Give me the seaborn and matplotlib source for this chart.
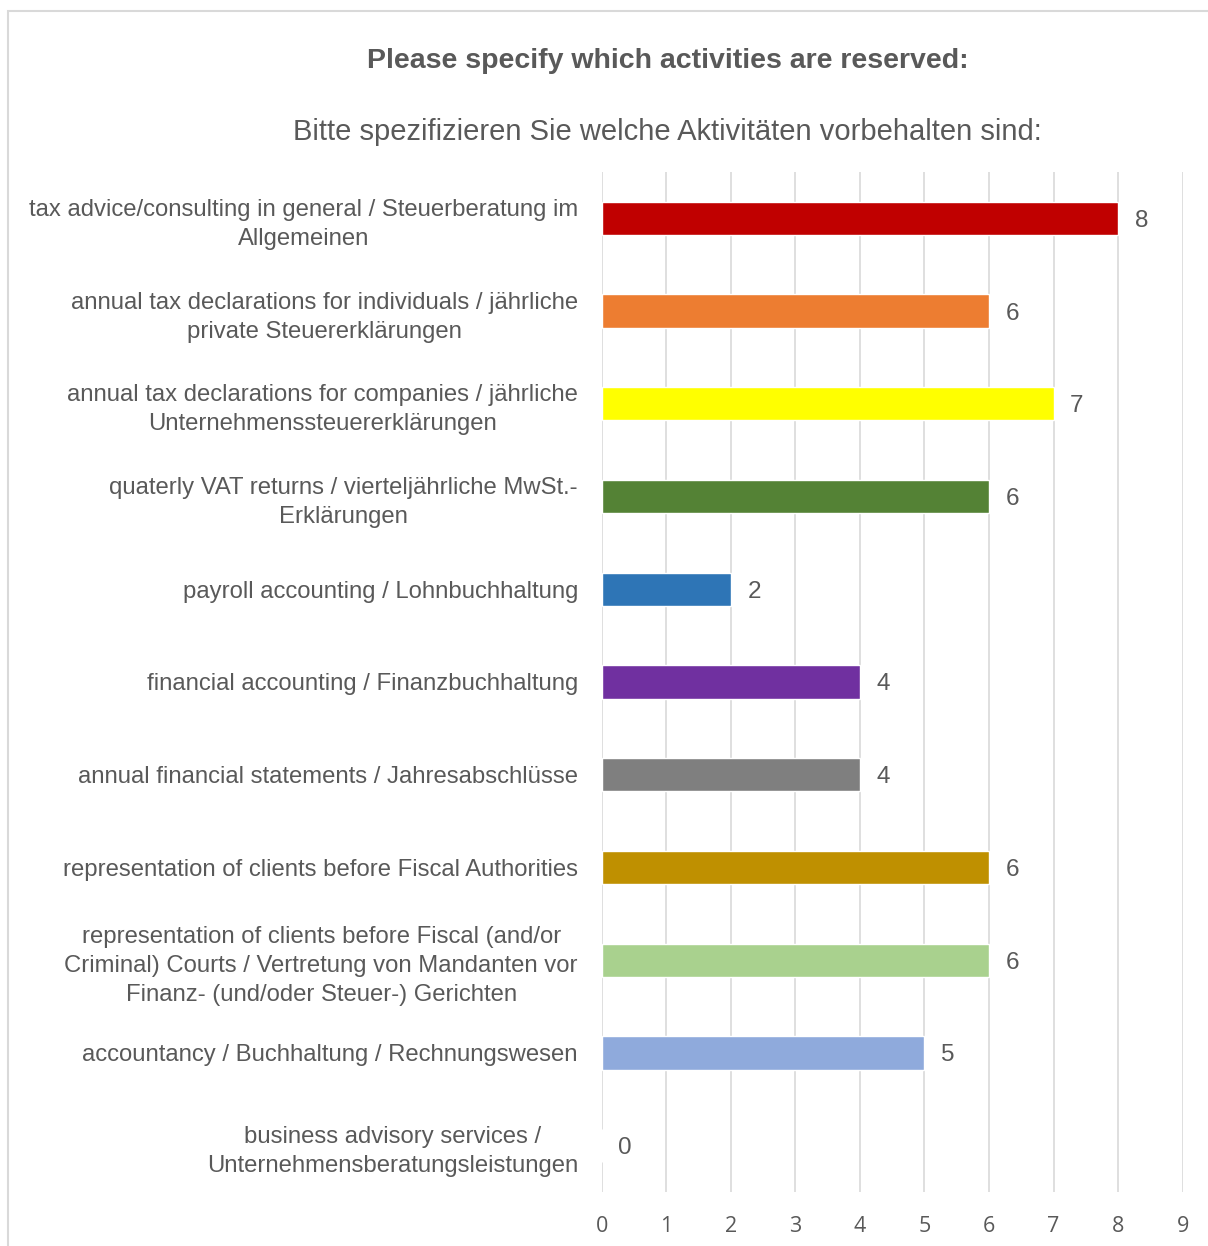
import matplotlib
matplotlib.use("Agg")
import matplotlib.pyplot as plt
import pandas as pd
import seaborn as sns
from matplotlib.patches import Rectangle

# ---------------------------------------------------------------------------
# Data
# ---------------------------------------------------------------------------
TITLE = "Please specify which activities are reserved:"
SUBTITLE = "Bitte spezifizieren Sie welche Aktivitäten vorbehalten sind:"

activities = [
    "tax advice/consulting in general / Steuerberatung im\nAllgemeinen",
    "annual tax declarations for individuals / jährliche\nprivate Steuererklärungen",
    "annual tax declarations for companies / jährliche\nUnternehmenssteuererklärungen",
    "quaterly VAT returns / vierteljährliche MwSt.-\nErklärungen",
    "payroll accounting / Lohnbuchhaltung",
    "financial accounting / Finanzbuchhaltung",
    "annual financial statements / Jahresabschlüsse",
    "representation of clients before Fiscal Authorities",
    "representation of clients before Fiscal (and/or\nCriminal) Courts / Vertretung von Mandanten vor\nFinanz- (und/oder Steuer-) Gerichten",
    "accountancy / Buchhaltung / Rechnungswesen",
    "business advisory services /\nUnternehmensberatungsleistungen",
]
counts = [8, 6, 7, 6, 2, 4, 4, 6, 6, 5, 0]
bar_colors = [
    "#C00000", "#ED7D31", "#FFFF00", "#548235", "#2E75B6", "#7030A0",
    "#7F7F7F", "#BF9000", "#A9D18E", "#8FAADC", "#4472C4",
]
x_ticks = list(range(0, 10))

TEXT = "#595959"
GRID = "#D9D9D9"

sns.set_theme(style="white")
plt.rcParams["font.family"] = ["Liberation Sans", "DejaVu Sans"]

df = pd.DataFrame({"activity": activities, "count": counts})

fig = plt.figure(figsize=(12.08, 12.46), dpi=100)
ax = fig.add_axes([0.498, 0.0433, 0.481, 0.8187])

sns.barplot(
    data=df, x="count", y="activity", hue="activity",
    palette=bar_colors, orient="h", width=0.36, legend=False,
    saturation=1, ax=ax,
)

ax.set_xlim(0, 9)
ax.set_xticks(x_ticks)
ax.set_xlabel("")
ax.set_ylabel("")
ax.grid(axis="x", color=GRID, linewidth=1.2)
ax.set_axisbelow(True)
for s in ax.spines.values():
    s.set_visible(False)
ax.tick_params(axis="x", length=0, pad=17, labelsize=15.5, labelcolor=TEXT)
ax.tick_params(axis="y", length=0, pad=17, labelsize=17.2, labelcolor=TEXT)
for lbl in ax.get_yticklabels():
    lbl.set_multialignment("center")
    lbl.set_linespacing(1.42)
for lbl in ax.get_xticklabels():
    lbl.set_family(["Open Sans", "DejaVu Sans"])

for cont in ax.containers:
    texts = ax.bar_label(cont, fmt="%d", padding=12, fontsize=17.5, color=TEXT)
    for t in texts:
        t.set_verticalalignment("center_baseline")

fig.text(0.5525, 0.951, TITLE, ha="center", va="center",
         fontsize=20.5, fontweight="bold", color=TEXT)
fig.text(0.5525, 0.894, SUBTITLE, ha="center", va="center",
         fontsize=21, color=TEXT)

# chart frame
fig.patches.append(Rectangle((8 / 1208, -0.01), 1.2, 1 - 11 / 1246 + 0.01,
                             transform=fig.transFigure, fill=False,
                             edgecolor="#D9D9D9", linewidth=1.5))

fig.savefig("out.png", dpi=100)
